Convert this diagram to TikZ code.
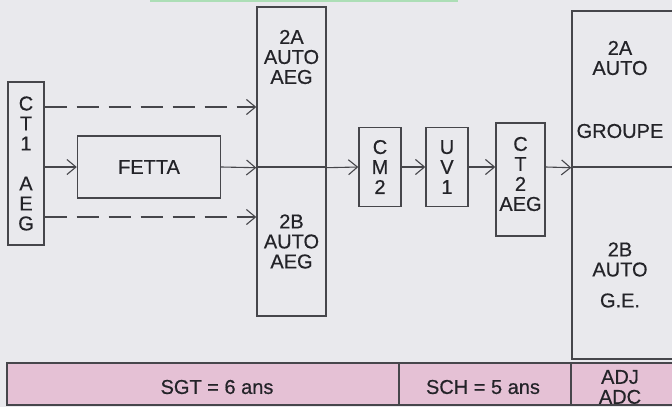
\documentclass[tikz,border=0pt]{standalone}
\usepackage{fontspec}
\setmainfont{Liberation Sans}[FakeBold=0.5]
\usetikzlibrary{arrows.meta}
\definecolor{bggray}{RGB}{233,233,237}
\definecolor{barpink}{RGB}{229,193,213}
\definecolor{linegray}{RGB}{70,70,75}
\definecolor{inkgray}{RGB}{35,35,40}
\definecolor{scangreen}{RGB}{172,222,182}
\begin{document}
\begin{tikzpicture}[x=1pt,y=-1pt,
  txt/.style={align=center,text=inkgray,inner sep=0pt,font=\fontsize{20}{20}\selectfont},
  box/.style={txt,draw=linegray,line width=1.4pt},
  cell/.style={box,fill=barpink},
  arr/.style={-{Straight Barb[length=9pt,width=15pt,line width=1.1pt]},draw=linegray,line width=1.1pt},
  dasharr/.style={arr,line width=2.2pt,dash pattern=on 22pt off 10pt}]
\fill[bggray] (0,0) rectangle (672,407);
\useasboundingbox (0,0) rectangle (672,407);
\fill[scangreen] (150,0) rectangle (458,1.5);

\node[box,minimum width=36pt,minimum height=163pt] (ct1) at (26,163.5) {C\\T\\1\\[20pt]A\\E\\G};
\node[box,minimum width=143pt,minimum height=62pt] (fetta) at (149,167) {FETTA};
\node[box,minimum width=69pt,minimum height=160pt] (m2A) at (291.5,87) {};
\node[txt] (m2At) at (291.5,57) {2A\\AUTO\\AEG};
\node[box,minimum width=69pt,minimum height=149pt] (m2B) at (291.5,241.5) {2B\\AUTO\\AEG};
\node[box,minimum width=42pt,minimum height=79pt] (cm2) at (380,167) {C\\M\\2};
\node[box,minimum width=42pt,minimum height=79pt] (uv1) at (447,167) {U\\V\\1};
\node[box,minimum width=49pt,minimum height=113pt] (ct2) at (520.5,179.5) {};
\node[txt] (ct2t) at (520.5,174) {C\\T\\2\\AEG};
\node[box,minimum width=104pt,minimum height=156pt] (r2A) at (624,89) {};
\node[txt] (r2At) at (620,89.5) {2A\\AUTO\\[43pt]GROUPE};
\node[box,minimum width=104pt,minimum height=192pt] (r2B) at (624,263) {};
\node[txt] (r2Bt) at (620,275) {2B\\AUTO\\[11pt]G.E.};

\node[cell,minimum width=392pt,minimum height=42pt] (sgt) at (203,384) {};
\node[cell,minimum width=172pt,minimum height=42pt] (sch) at (485,384) {};
\node[cell,minimum width=105pt,minimum height=42pt] (adj) at (623.5,384) {};
\node[txt] (sgtt) at (217,387) {SGT = 6 ans};
\node[txt] (scht) at (483,387) {SCH = 5 ans};
\node[txt] (adjt) at (620,387) {ADJ\\ADC};

\coordinate (hi) at (0,107);
\coordinate (lo) at (0,217);
\draw[dasharr] (ct1.east |- hi) -- (m2A.west |- hi);
\draw[dasharr] (ct1.east |- lo) -- (m2B.west |- lo);
\draw[arr] (ct1.east |- fetta.west) -- (fetta.west);
\draw[arr] (fetta.east) -- (m2A.south west);
\draw[arr] (m2A.south east) -- (cm2.west);
\draw[arr] (cm2.east) -- (uv1.west);
\draw[arr] (uv1.east) -- (uv1.east -| ct2.west);
\draw[arr] (uv1.east -| ct2.east) -- (r2A.south west);
\end{tikzpicture}
\end{document}
